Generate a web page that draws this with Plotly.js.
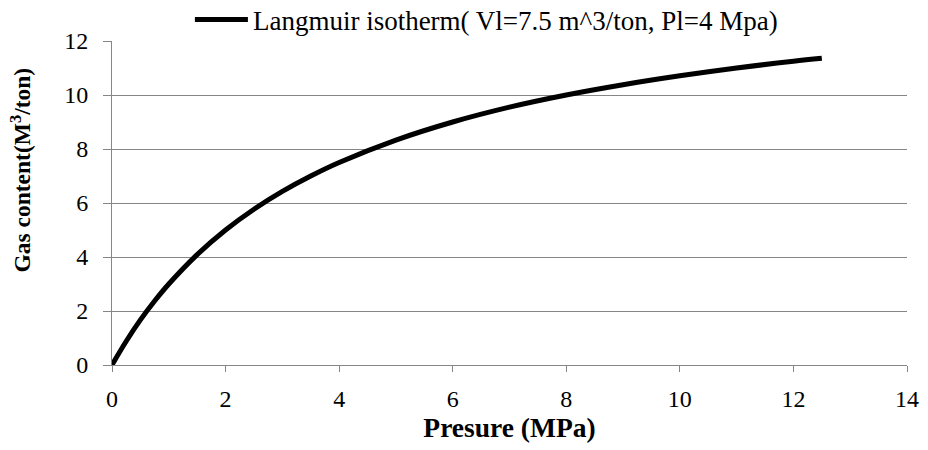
<!DOCTYPE html>
<html>
<head>
<meta charset="utf-8">
<script src="https://cdn.plot.ly/plotly-3.0.1.min.js"></script>
<style>html,body{margin:0;padding:0;background:#fff;}#chart{width:928px;height:450px;}</style>
</head>
<body>
<div id="chart"></div>
<script>
// Pressure (MPa)
var pressure = [0, 0.25, 0.5, 0.75, 1, 1.5, 2, 2.5, 3, 3.5, 4, 5, 6, 7, 8, 9, 10, 11, 12, 12.5];
// Gas content (M^3/ton)
var gasContent = [0, 0.88, 1.67, 2.37, 3.0, 4.09, 5.0, 5.77, 6.43, 7.0, 7.5, 8.33, 9.0, 9.55, 10.0, 10.38, 10.71, 11.0, 11.25, 11.36];
var seriesName = 'Langmuir isotherm( Vl=7.5 m^3/ton, Pl=4 Mpa)';
var xTitle = 'Presure (MPa)';
var yTitle = 'Gas content(M<sup>3</sup>/ton)';
var xTicks = [0, 2, 4, 6, 8, 10, 12, 14];
var yTicks = [0, 2, 4, 6, 8, 10, 12];

var font = '"Liberation Serif", "Times New Roman", Times, serif';
var grey = '#868686';

var trace = {
  x: pressure, y: gasContent, type: 'scatter', mode: 'lines', name: seriesName,
  line: {color: '#000000', width: 5, shape: 'spline', smoothing: 1}
};

var layout = {
  width: 928, height: 450,
  margin: {l: 112, r: 21, t: 41, b: 85, autoexpand: false},
  paper_bgcolor: '#ffffff', plot_bgcolor: '#ffffff',
  font: {family: font, size: 24, color: '#000000'},
  showlegend: true,
  legend: {orientation: 'h', x: 0.098, xanchor: 'left', y: 1.065, yanchor: 'middle',
           font: {family: font, size: 27, color: '#000'}, bgcolor: 'rgba(0,0,0,0)', itemwidth: 53},
  xaxis: {
    range: [0, 14], tickvals: xTicks, ticktext: xTicks.map(String),
    showgrid: false, zeroline: false, showline: true, linecolor: grey, linewidth: 1,
    ticks: 'outside', ticklen: 6, tickcolor: grey, tickwidth: 1, ticklabelstandoff: 6,
    tickfont: {family: font, size: 24, color: '#000'},
    title: {text: '<b>' + xTitle + '</b>', font: {family: font, size: 27.5, color: '#000'}, standoff: 6}
  },
  yaxis: {
    range: [0, 12], tickvals: yTicks, ticktext: yTicks.map(String),
    showgrid: true, gridcolor: grey, gridwidth: 1, zeroline: false,
    showline: true, linecolor: grey, linewidth: 1,
    ticks: 'outside', ticklen: 8, tickcolor: grey, tickwidth: 1, ticklabelstandoff: 10,
    tickfont: {family: font, size: 24, color: '#000'}
  },
  annotations: [{
    text: '<b>' + yTitle + '</b>', textangle: -90, showarrow: false,
    xref: 'paper', yref: 'paper', x: -0.115, y: 0.602, xanchor: 'center', yanchor: 'middle',
    font: {family: font, size: 23.5, color: '#000'}
  }]
};

Plotly.newPlot('chart', [trace], layout, {displayModeBar: false, responsive: false});
</script>
</body>
</html>
